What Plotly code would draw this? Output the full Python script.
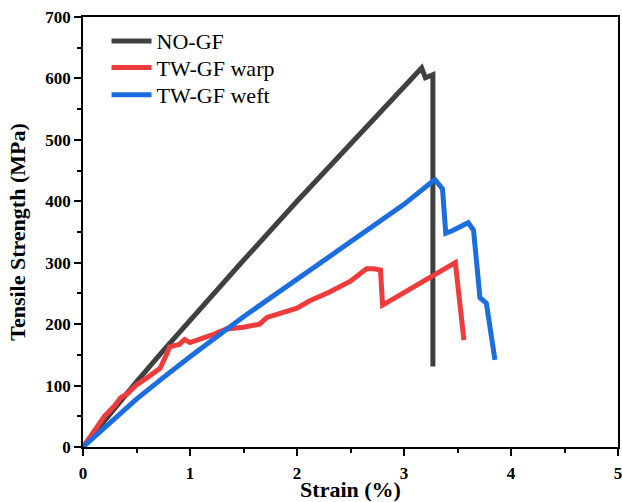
import plotly.graph_objects as go

# NO-GF
nogf_x = [0, 0.25, 0.5, 0.75, 1.0, 1.5, 2.0, 2.5, 3.0, 3.1, 3.165, 3.2, 3.27, 3.27]
nogf_y = [0, 54, 106, 157, 207, 304, 400, 492, 585, 603, 617, 601, 606, 131]

# TW-GF warp
warp_x = [0, 0.1, 0.2, 0.3, 0.35, 0.41, 0.5, 0.6, 0.72, 0.78, 0.81, 0.9, 0.95, 1.0, 1.12, 1.2, 1.34, 1.5, 1.65, 1.72, 1.85, 2.0, 2.12, 2.3, 2.5, 2.65, 2.72, 2.78, 2.8, 3.0, 3.2, 3.48, 3.56]
warp_y = [0, 25, 50, 68, 80, 86, 101, 113, 128, 150, 163, 167, 175, 170, 176, 182, 192, 195, 200, 211, 218, 226, 238, 252, 270, 290, 290, 288, 231, 251, 271, 300, 174]

# TW-GF weft
weft_x = [0, 0.25, 0.5, 0.75, 1.0, 1.5, 2.0, 2.5, 3.0, 3.27, 3.29, 3.36, 3.39, 3.45, 3.6, 3.65, 3.71, 3.77, 3.85]
weft_y = [0, 40, 78, 113, 147, 212, 273, 335, 395, 433, 435, 420, 348, 352, 365, 353, 243, 234, 142]

names = ["NO-GF", "TW-GF warp", "TW-GF weft"]
colors = ["#404040", "#ee3b3b", "#1c6edf"]
legend_ids = ["legend", "legend2", "legend3"]
legend_y = [0.944, 0.882, 0.819]

fig = go.Figure()
for xs, ys, nm, c, lg in [(nogf_x, nogf_y, names[0], colors[0], legend_ids[0]),
                          (warp_x, warp_y, names[1], colors[1], legend_ids[1]),
                          (weft_x, weft_y, names[2], colors[2], legend_ids[2])]:
    fig.add_trace(go.Scatter(x=xs, y=ys, mode="lines", name=nm, legend=lg,
                             line=dict(color=c, width=5)))

font = "Liberation Serif, Times New Roman, serif"
axis_common = dict(showline=True, linecolor="black", linewidth=1.5, mirror=True,
                   ticks="outside", ticklen=7, tickwidth=1.5, tickcolor="black",
                   showgrid=False, zeroline=False, automargin=False,
                   tickfont=dict(family=font, size=17, color="black", weight="bold"))

fig.update_xaxes(range=[0, 5], dtick=1, tick0=0, ticklabelstandoff=3,
                 minor=dict(ticks="outside", ticklen=4, dtick=0.5, tickcolor="black", tickwidth=1.5),
                 title=dict(text="Strain (%)", font=dict(family=font, size=22, color="black", weight="bold"), standoff=13),
                 **axis_common)
fig.update_yaxes(range=[0, 700], dtick=100, tick0=0,
                 minor=dict(ticks="outside", ticklen=4, dtick=50, tickcolor="black", tickwidth=1.5),
                 title=dict(text="Tensile Strength (MPa)", font=dict(family=font, size=22, color="black", weight="bold"), standoff=14),
                 **axis_common)

leg_common = dict(x=0.044, xanchor="left", yanchor="middle",
                  font=dict(family=font, size=22, color="black"),
                  bgcolor="rgba(0,0,0,0)", itemwidth=40)
fig.update_layout(
    width=626, height=502,
    margin=dict(l=83, r=8, t=17, b=55),
    paper_bgcolor="white", plot_bgcolor="white",
    legend=dict(y=legend_y[0], **leg_common),
    legend2=dict(y=legend_y[1], **leg_common),
    legend3=dict(y=legend_y[2], **leg_common),
    showlegend=True,
)

fig.write_html("out.html", config={"displayModeBar": False},
               post_script="document.body.style.margin='0px';document.body.style.overflow='hidden';")
